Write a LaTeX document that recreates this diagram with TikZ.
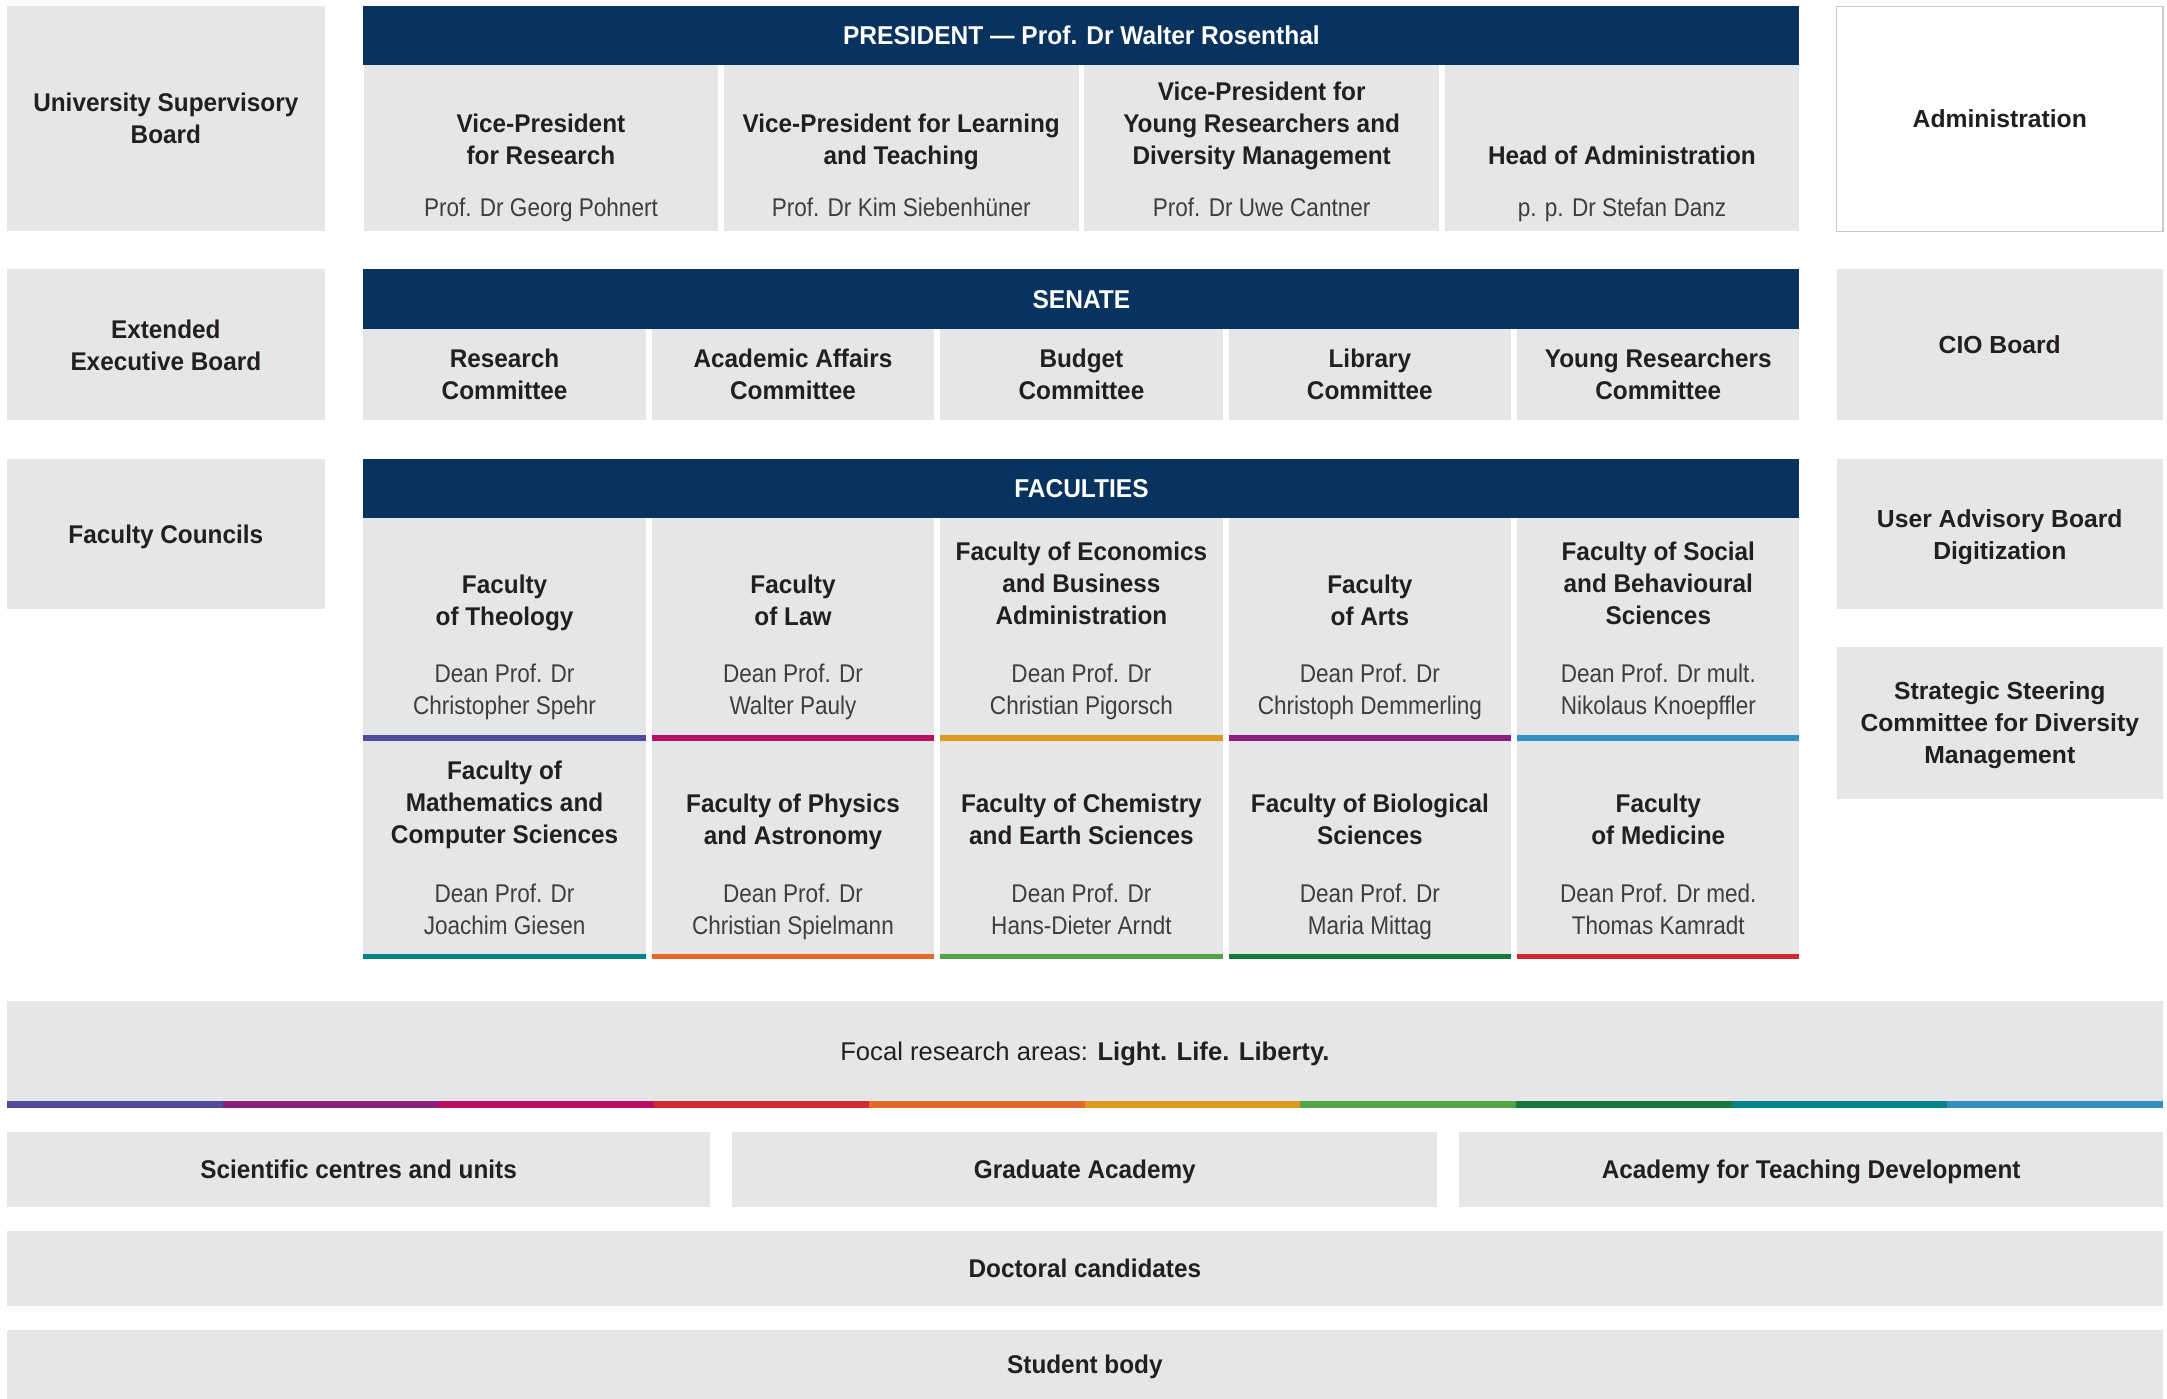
\documentclass[tikz,border=0pt]{standalone}
\usepackage{fontspec}
\setmainfont{Liberation Sans}[FakeStretch=0.95]
\newfontfamily\namefont{Liberation Sans}[FakeStretch=0.88]
\newfontfamily\widefont{Liberation Sans}

\definecolor{uniNavy}{RGB}{8,51,94}
\definecolor{boxGray}{RGB}{229,230,232}
\definecolor{lineGray}{RGB}{200,200,202}
\definecolor{inkDark}{RGB}{35,31,32}
\definecolor{inkName}{RGB}{62,62,62}
\definecolor{fViolet}{RGB}{84,74,156}
\definecolor{fPurple}{RGB}{138,31,126}
\definecolor{fMagenta}{RGB}{182,15,99}
\definecolor{fRed}{RGB}{207,42,50}
\definecolor{fOrange}{RGB}{224,106,38}
\definecolor{fAmber}{RGB}{221,152,30}
\definecolor{fGreen}{RGB}{80,166,70}
\definecolor{fDarkGreen}{RGB}{20,122,60}
\definecolor{fTeal}{RGB}{0,130,140}
\definecolor{fBlue}{RGB}{50,143,192}

\tikzset{every picture/.style={line width=0.75pt}}
\tikzset{
	sz/.style 2 args={minimum width=#1*0.75pt, minimum height=#2*0.75pt},
	gbox/.style={fill=boxGray, inner sep=0pt, align=center, text=inkDark, text depth=0pt,
		font=\bfseries\fontsize{13.9}{17.3}\selectfont},
	wbox/.style={gbox, font=\widefont\bfseries\fontsize{13.4}{17.3}\selectfont},
	navybar/.style={fill=uniNavy, inner sep=0pt, text=white, text depth=0pt,
		font=\bfseries\fontsize{14}{17.3}\selectfont},
	title/.style={inner sep=0pt, align=center, text=inkDark, text depth=0pt,
		font=\bfseries\fontsize{13.9}{17.3}\selectfont},
	person/.style={inner sep=0pt, align=center, text=inkName, text depth=0pt,
		font=\namefont\fontsize{13.9}{17.3}\selectfont}}

\begin{document}
\begin{tikzpicture}[x=0.75pt,y=0.75pt,yscale=-1,xscale=1]
	\useasboundingbox (0,0) rectangle (1568,1012);

	%Shape: Rectangle [left column]
	\node[gbox, sz={230}{163}] (usb) at (120,85.5) {University Supervisory\\Board};
	\node[gbox, sz={230}{109}] (eeb) at (120,249.5) {Extended\\Executive Board};
	\node[gbox, sz={230}{109}] (fc) at (120,386.5) {Faculty Councils};

	%Shape: Rectangle [right column]
	\node[wbox, fill=white, draw=lineGray, sz={236}{163}] (adm) at (1447,86) {Administration};
	\node[wbox, sz={236}{109}] (cio) at (1447,249.5) {CIO Board};
	\node[wbox, sz={236}{109}] (uab) at (1447,386.5) {User Advisory Board\\Digitization};
	\node[wbox, sz={236}{110}] (sscdm) at (1447,523) {Strategic Steering\\Committee for Diversity\\Management};

	%Shape: Rectangle [president]
	\node[navybar, sz={1039}{43}] (pres) at (782.5,25.5) {PRESIDENT — Prof. Dr Walter Rosenthal};
	\node[gbox, sz={256.75}{120}] (vpRes) at (391.4,107) {};
	\node[gbox, sz={256.75}{120}] (vpLearn) at (652.1,107) {};
	\node[gbox, sz={256.75}{120}] (vpYoung) at (912.9,107) {};
	\node[gbox, sz={256.75}{120}] (headAdm) at (1173.6,107) {};
	% Text Node
	\node[title] (vpResT) at (391.4,100.5) {Vice-President\\for Research};
	\node[person] (vpResN) at (391.4,150) {Prof. Dr Georg Pohnert};
	% Text Node
	\node[title] (vpLearnT) at (652.1,100.5) {Vice-President for Learning\\and Teaching};
	\node[person] (vpLearnN) at (652.1,150) {Prof. Dr Kim Siebenhüner};
	% Text Node
	\node[title] (vpYoungT) at (912.9,89) {Vice-President for\\Young Researchers and\\Diversity Management};
	\node[person] (vpYoungN) at (912.9,150) {Prof. Dr Uwe Cantner};
	% Text Node
	\node[title] (headAdmT) at (1173.6,112) {Head of Administration};
	\node[person] (headAdmN) at (1173.6,150) {p. p. Dr Stefan Danz};

	%Shape: Rectangle [senate]
	\node[navybar, sz={1039}{43}] (senate) at (782.5,216.5) {SENATE};
	\node[gbox, sz={204.2}{66}] (cRes) at (365.1,271) {Research\\Committee};
	\node[gbox, sz={204.2}{66}] (cAcad) at (573.8,271) {Academic Affairs\\Committee};
	\node[gbox, sz={204.2}{66}] (cBudget) at (782.5,271) {Budget\\Committee};
	\node[gbox, sz={204.2}{66}] (cLib) at (991.2,271) {Library\\Committee};
	\node[gbox, sz={204.2}{66}] (cYoung) at (1199.9,271) {Young Researchers\\Committee};

	%Shape: Rectangle [faculties]
	\node[navybar, sz={1039}{43}] (facs) at (782.5,353.5) {FACULTIES};
	\node[gbox, sz={204.2}{161}] (fTheol) at (365.1,455.5) {};
	\node[gbox, sz={204.2}{161}] (fLaw) at (573.8,455.5) {};
	\node[gbox, sz={204.2}{161}] (fEcon) at (782.5,455.5) {};
	\node[gbox, sz={204.2}{161}] (fArts) at (991.2,455.5) {};
	\node[gbox, sz={204.2}{161}] (fSoc) at (1199.9,455.5) {};
	\node[gbox, sz={204.2}{158}] (fMath) at (365.1,615) {};
	\node[gbox, sz={204.2}{158}] (fPhys) at (573.8,615) {};
	\node[gbox, sz={204.2}{158}] (fChem) at (782.5,615) {};
	\node[gbox, sz={204.2}{158}] (fBio) at (991.2,615) {};
	\node[gbox, sz={204.2}{158}] (fMed) at (1199.9,615) {};
	%Shape: Rectangle [faculty colour bars]
	\fill[fViolet] (263,532) rectangle (467.2,536);
	\fill[fMagenta] (471.7,532) rectangle (675.9,536);
	\fill[fAmber] (680.4,532) rectangle (884.6,536);
	\fill[fPurple] (889.1,532) rectangle (1093.3,536);
	\fill[fBlue] (1097.8,532) rectangle (1302,536);
	\fill[fTeal] (263,690) rectangle (467.2,694);
	\fill[fOrange] (471.7,690) rectangle (675.9,694);
	\fill[fGreen] (680.4,690) rectangle (884.6,694);
	\fill[fDarkGreen] (889.1,690) rectangle (1093.3,694);
	\fill[fRed] (1097.8,690) rectangle (1302,694);

	% Text Node
	\node[title] (fTheolT) at (365.1,434) {Faculty\\of Theology};
	\node[person] (fTheolN) at (365.1,499) {Dean Prof. Dr\\Christopher Spehr};
	% Text Node
	\node[title] (fLawT) at (573.8,434) {Faculty\\of Law};
	\node[person] (fLawN) at (573.8,499) {Dean Prof. Dr\\Walter Pauly};
	% Text Node
	\node[title] (fEconT) at (782.5,422) {Faculty of Economics\\and Business\\Administration};
	\node[person] (fEconN) at (782.5,499) {Dean Prof. Dr\\Christian Pigorsch};
	% Text Node
	\node[title] (fArtsT) at (991.2,434) {Faculty\\of Arts};
	\node[person] (fArtsN) at (991.2,499) {Dean Prof. Dr\\Christoph Demmerling};
	% Text Node
	\node[title] (fSocT) at (1199.9,422) {Faculty of Social\\and Behavioural\\Sciences};
	\node[person] (fSocN) at (1199.9,499) {Dean Prof. Dr mult.\\Nikolaus Knoepffler};
	% Text Node
	\node[title] (fMathT) at (365.1,580.5) {Faculty of\\Mathematics and\\Computer Sciences};
	\node[person] (fMathN) at (365.1,658) {Dean Prof. Dr\\Joachim Giesen};
	% Text Node
	\node[title] (fPhysT) at (573.8,593) {Faculty of Physics\\and Astronomy};
	\node[person] (fPhysN) at (573.8,658) {Dean Prof. Dr\\Christian Spielmann};
	% Text Node
	\node[title] (fChemT) at (782.5,593) {Faculty of Chemistry\\and Earth Sciences};
	\node[person] (fChemN) at (782.5,658) {Dean Prof. Dr\\Hans-Dieter Arndt};
	% Text Node
	\node[title] (fBioT) at (991.2,593) {Faculty of Biological\\Sciences};
	\node[person] (fBioN) at (991.2,658) {Dean Prof. Dr\\Maria Mittag};
	% Text Node
	\node[title] (fMedT) at (1199.9,593) {Faculty\\of Medicine};
	\node[person] (fMedN) at (1199.9,658) {Dean Prof. Dr med.\\Thomas Kamradt};

	%Shape: Rectangle [focal research areas]
	\node[gbox, sz={1560}{74}, font=\widefont\fontsize{13.9}{17.3}\selectfont] (focal) at (785,761)
		{Focal research areas: \textbf{Light. Life. Liberty.}};
	%Shape: Rectangle [colour stripe]
	\fill[fViolet] (5,797) rectangle (161,802);
	\fill[fPurple] (161,797) rectangle (317,802);
	\fill[fMagenta] (317,797) rectangle (473,802);
	\fill[fRed] (473,797) rectangle (629,802);
	\fill[fOrange] (629,797) rectangle (785,802);
	\fill[fAmber] (785,797) rectangle (941,802);
	\fill[fGreen] (941,797) rectangle (1097,802);
	\fill[fDarkGreen] (1097,797) rectangle (1253,802);
	\fill[fTeal] (1253,797) rectangle (1409,802);
	\fill[fBlue] (1409,797) rectangle (1565,802);

	%Shape: Rectangle [bottom rows]
	\node[gbox, sz={509}{54}] (sci) at (259.5,846) {Scientific centres and units};
	\node[gbox, sz={510}{54}] (grad) at (785,846) {Graduate Academy};
	\node[gbox, sz={509}{54}] (atd) at (1310.5,846) {Academy for Teaching Development};
	\node[gbox, sz={1560}{54}] (doc) at (785,918) {Doctoral candidates};
	\node[gbox, sz={1560}{50}] (stud) at (785,987) {Student body};

\end{tikzpicture}
\end{document}
